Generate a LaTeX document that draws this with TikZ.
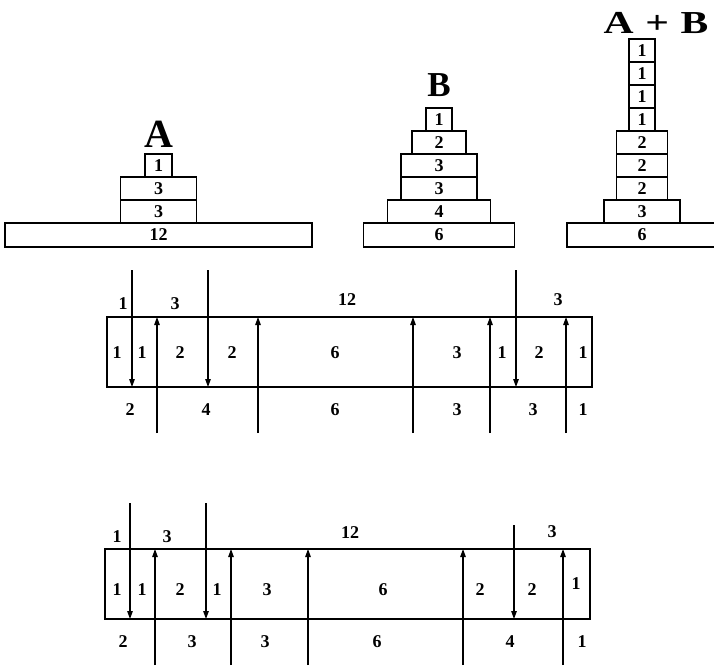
\documentclass[tikz,border=0pt]{standalone}
\usepackage{fontspec}
\setmainfont{Liberation Serif}
\usetikzlibrary{arrows.meta}
\usetikzlibrary{positioning}
\tikzset{slab/.style = {draw, line width=1.5pt, minimum height=23pt, inner sep=0pt,
                        outer sep=0pt, font=\fontsize{18}{18}\selectfont\bfseries}}
\tikzset{title/.style = {inner sep=0pt, font=\fontsize{40}{40}\selectfont\bfseries}}
\tikzset{num/.style = {inner sep=0pt, font=\fontsize{18}{18}\selectfont\bfseries}}
\tikzset{strip/.style = {draw, line width=1.6pt, inner sep=0pt, outer sep=0pt,
                         minimum width=485pt, minimum height=70pt}}
\tikzset{cutarrow/.style = {line width=1.2pt, -{Triangle[length=8pt,width=5.5pt]}}}

\begin{document}
\begin{tikzpicture}[x=1pt, y=-1pt]
		\useasboundingbox (0,0) rectangle (714,667);
		
		% stack A
		\node[slab, minimum width=307pt, minimum height=24pt] (a12) at (158.5,235) {12};
		\node[slab, minimum width=76pt, above=0pt of a12] (a3a) {3};
		\node[slab, minimum width=76pt, above=0pt of a3a] (a3b) {3};
		\node[slab, minimum width=27pt, above=0pt of a3b] (a1) {1};
		\node[title, above=6pt of a1] (ta) {A};
		
		% stack B
		\node[slab, minimum width=151pt, minimum height=24pt] (b6) at (439,235) {6};
		\node[slab, minimum width=103pt, above=0pt of b6] (b4) {4};
		\node[slab, minimum width=76pt, above=0pt of b4] (b3a) {3};
		\node[slab, minimum width=76pt, above=0pt of b3a] (b3b) {3};
		\node[slab, minimum width=54pt, above=0pt of b3b] (b2) {2};
		\node[slab, minimum width=26pt, above=0pt of b2] (b1) {1};
		\node[title, font=\fontsize{35}{35}\selectfont\bfseries, above=11pt of b1] (tb) {B};
		
		% stack A + B
		\node[slab, minimum width=150pt, minimum height=24pt] (c6) at (642,235) {6};
		\node[slab, minimum width=76pt, above=0pt of c6] (c3) {3};
		\node[slab, minimum width=51pt, above=0pt of c3] (c2a) {2};
		\node[slab, minimum width=51pt, above=0pt of c2a] (c2b) {2};
		\node[slab, minimum width=51pt, above=0pt of c2b] (c2c) {2};
		\node[slab, minimum width=26pt, above=0pt of c2c] (c1a) {1};
		\node[slab, minimum width=26pt, above=0pt of c1a] (c1b) {1};
		\node[slab, minimum width=26pt, above=0pt of c1b] (c1c) {1};
		\node[slab, minimum width=26pt, above=0pt of c1c] (c1d) {1};
		\node[title, font=\fontsize{32}{32}\selectfont\bfseries, above=5pt of c1d, xshift=14pt] (tab)
		{\scalebox{1.3}[1]{A\hspace{0.28em}+\hspace{0.28em}B}};
		
		% first strip
		\node[strip] (mid) at (349.5,352) {};
		\foreach \x [count=\i] in {157,258,413,490,566}{
			\coordinate (mu\i) at (\x,433);
			\coordinate (mt\i) at (\x,317);
			\draw[cutarrow] (mu\i) -- (mt\i);
		}
		\foreach \x [count=\i] in {132,208}{
			\coordinate (md\i) at (\x,270);
			\coordinate (mb\i) at (\x,387);
			\draw[cutarrow] (md\i) -- (mb\i);
		}
		\coordinate (md3) at (516,270);
		\coordinate (mb3) at (516,387);
		\draw[cutarrow] (md3) -- (mb3);
		\foreach \x/\y/\t [count=\i] in {123/304/1, 175/304/3, 347/300/12, 558/300/3,
			117/353/1, 142/353/1, 180/353/2, 232/353/2, 335/353/6, 457/353/3, 502/353/1, 539/353/2, 583/353/1,
			130/410/2, 206/410/4, 335/410/6, 457/410/3, 533/410/3, 583/410/1}
			\node[num] (ml\i) at (\x,\y) {\t};
		
		% second strip
		\node[strip] (low) at (347.5,584) {};
		\foreach \x [count=\i] in {155,231,308,463,563}{
			\coordinate (lu\i) at (\x,665);
			\coordinate (lt\i) at (\x,549);
			\draw[cutarrow] (lu\i) -- (lt\i);
		}
		\foreach \x [count=\i] in {130,206}{
			\coordinate (ld\i) at (\x,503);
			\coordinate (lb\i) at (\x,619);
			\draw[cutarrow] (ld\i) -- (lb\i);
		}
		\coordinate (ld3) at (514,525);
		\coordinate (lb3) at (514,619);
		\draw[cutarrow] (ld3) -- (lb3);
		\foreach \x/\y/\t [count=\i] in {117/537/1, 167/537/3, 350/533/12, 552/532/3,
			117/590/1, 142/590/1, 180/590/2, 217/590/1, 267/590/3, 383/590/6, 480/590/2, 532/590/2, 576/584/1,
			123/642/2, 192/642/3, 265/642/3, 377/642/6, 510/642/4, 582/642/1}
			\node[num] (ll\i) at (\x,\y) {\t};
		
\end{tikzpicture}
\end{document}
